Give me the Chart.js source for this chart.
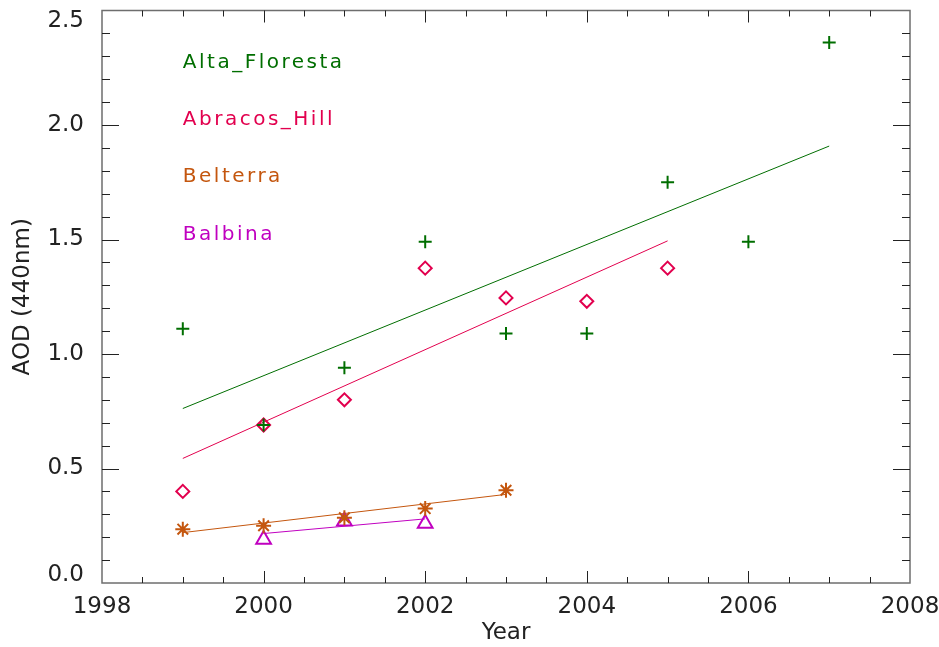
<!DOCTYPE html>
<html lang="en">
<head>
  <meta charset="UTF-8" />
  <title>AOD (440nm) by year</title>
  <script src="https://cdn.jsdelivr.net/npm/chart.js"></script>
  <style>
    body {
      margin: 0;
      background: #ffffff;
    }
    #wrap {
      width: 939px;
      height: 647px;
    }
  </style>
</head>
<body>

<div id="wrap">
  <canvas id="aodChart" width="939" height="647"></canvas>
</div>

<script>
  // values
  const years = [1999, 2000, 2001, 2002, 2003, 2004, 2005, 2006, 2007];

  const altaFloresta = [1.11, 0.69, 0.94, 1.49, 1.09, 1.09, 1.75, 1.49, 2.36];
  const abracosHill  = [0.40, 0.69, 0.80, 1.375, 1.245, 1.23, 1.375];
  const belterra     = [0.235, 0.25, 0.285, 0.325, 0.405];
  const balbinaYears = [2000, 2001, 2002];
  const balbina      = [0.19, 0.27, 0.26];

  // fitted trend lines (end points)
  const altaTrendYears = [1999, 2007];
  const altaTrend      = [0.762, 1.908];
  const abracosTrendYears = [1999, 2005];
  const abracosTrend      = [0.544, 1.494];
  const belterraTrendYears = [1999, 2003];
  const belterraTrend      = [0.22, 0.387];
  const balbinaTrendYears = [2000, 2002];
  const balbinaTrend      = [0.216, 0.28];

  const yTicks = [0.0, 0.5, 1.0, 1.5, 2.0, 2.5];
  const xTicks = [1998, 2000, 2002, 2004, 2006, 2008];

  const stations = ['Alta_Floresta', 'Abracos_Hill', 'Belterra', 'Balbina'];
  const labelHeights = [2.25, 2.0, 1.75, 1.5];

  const GREEN = '#006e00';
  const RED = '#e2004e';
  const ORANGE = '#c4560e';
  const MAGENTA = '#c000c0';
  const colors = [GREEN, RED, ORANGE, MAGENTA];

  function pts(xs, ys) {
    return ys.map((v, i) => ({ x: xs[i], y: v }));
  }

  function markers(label, xs, ys, color, style, radius) {
    return {
      label: label,
      data: pts(xs, ys),
      showLine: false,
      pointStyle: style,
      pointRadius: radius,
      pointHoverRadius: radius,
      pointBorderWidth: 2,
      pointBackgroundColor: 'rgba(0,0,0,0)',
      pointBorderColor: color,
      order: 0
    };
  }

  function trend(label, xs, ys, color) {
    return {
      label: label + ' fit',
      data: pts(xs, ys),
      showLine: true,
      borderColor: color,
      borderWidth: 1,
      pointRadius: 0,
      fill: false,
      order: 1
    };
  }

  // frame with inward ticks on all four sides, plus the station labels
  const framePlugin = {
    id: 'framePlugin',
    afterDatasetsDraw(chart) {
      const { ctx, chartArea: a, scales: { x, y } } = chart;
      ctx.save();

      ctx.strokeStyle = '#6e6e6e';
      ctx.lineWidth = 1.5;
      ctx.strokeRect(a.left, a.top, a.right - a.left, a.bottom - a.top);

      ctx.strokeStyle = '#222';
      ctx.lineWidth = 1;
      ctx.beginPath();
      // x ticks every half year, major every 2 years
      for (let k = 1; k < 20; k++) {
        const px = Math.round(x.getPixelForValue(1998 + k * 0.5)) + 0.5;
        const len = (k % 4 === 0) ? 12 : 6;
        ctx.moveTo(px, a.bottom); ctx.lineTo(px, a.bottom - len);
        ctx.moveTo(px, a.top); ctx.lineTo(px, a.top + len);
      }
      // y ticks every 0.1, major every 0.5
      for (let k = 1; k < 25; k++) {
        const py = Math.round(y.getPixelForValue(k * 0.1)) + 0.5;
        const len = (k % 5 === 0) ? 17 : 8;
        ctx.moveTo(a.left, py); ctx.lineTo(a.left + len, py);
        ctx.moveTo(a.right, py); ctx.lineTo(a.right - len, py);
      }
      ctx.stroke();

      ctx.font = '20px "DejaVu Sans"';
      ctx.letterSpacing = '2.5px';
      ctx.textAlign = 'left';
      ctx.textBaseline = 'alphabetic';
      stations.forEach((name, i) => {
        ctx.fillStyle = colors[i];
        ctx.fillText(name, x.getPixelForValue(1999), y.getPixelForValue(labelHeights[i]));
      });
      ctx.restore();
    }
  };

  const tickFont = { family: '"DejaVu Sans"', size: 23 };

  // end labels of the y axis sit a little inside the frame
  function yTickFont(c) {
    const v = c.tick ? c.tick.value : null;
    if (v === 2.5) return { family: '"DejaVu Sans"', size: 23, lineHeight: 0.9 };
    if (v === 0) return { family: '"DejaVu Sans"', size: 23, lineHeight: 0.7 };
    return tickFont;
  }

  new Chart(document.getElementById('aodChart'), {
    type: 'scatter',
    data: {
      datasets: [
        markers('Alta_Floresta', years, altaFloresta, GREEN, 'cross', 6.5),
        markers('Abracos_Hill', years, abracosHill, RED, 'rectRot', 6.5),
        markers('Belterra', years, belterra, ORANGE, 'star', 7.5),
        markers('Balbina', balbinaYears, balbina, MAGENTA, 'triangle', 8.5),
        trend('Alta_Floresta', altaTrendYears, altaTrend, GREEN),
        trend('Abracos_Hill', abracosTrendYears, abracosTrend, RED),
        trend('Belterra', belterraTrendYears, belterraTrend, ORANGE),
        trend('Balbina', balbinaTrendYears, balbinaTrend, MAGENTA)
      ]
    },
    options: {
      responsive: false,
      animation: false,
      layout: { padding: { left: 0, right: 29, top: 8, bottom: 0 } },
      plugins: {
        legend: { display: false },
        tooltip: { enabled: false }
      },
      scales: {
        x: {
          type: 'linear',
          min: 1998,
          max: 2008,
          afterFit: s => { s.height = 64; s.paddingLeft = 0; s.paddingRight = 0; },
          afterBuildTicks: s => { s.ticks = xTicks.map(v => ({ value: v })); },
          grid: { display: false },
          border: { display: false },
          ticks: {
            color: '#222',
            font: tickFont,
            padding: 2,
            maxRotation: 0,
            callback: v => String(v)
          },
          title: {
            display: true,
            text: 'Year',
            color: '#222',
            font: tickFont,
            padding: { top: 0, bottom: 0 }
          }
        },
        y: {
          min: 0,
          max: 2.5,
          afterFit: s => { s.width = 102; s.paddingTop = 0; s.paddingBottom = 0; },
          afterBuildTicks: s => { s.ticks = yTicks.map(v => ({ value: v })); },
          grid: { display: false },
          border: { display: false },
          ticks: {
            color: '#222',
            font: yTickFont,
            padding: 10,
            callback: v => v === 2.5 ? ['', '2.5'] : v === 0 ? ['0.0', ''] : v.toFixed(1)
          },
          title: {
            display: true,
            text: 'AOD (440nm)',
            color: '#222',
            font: tickFont,
            padding: { top: 9, bottom: 0 }
          }
        }
      }
    },
    plugins: [framePlugin]
  });
</script>
</body>
</html>
